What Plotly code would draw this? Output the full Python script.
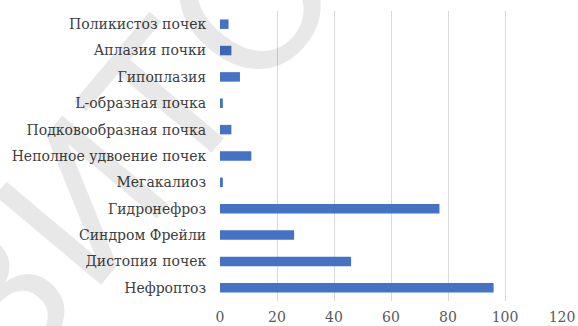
import plotly.graph_objects as go

categories = [
    "Поликистоз почек",
    "Аплазия почки",
    "Гипоплазия",
    "L-образная почка",
    "Подковообразная почка",
    "Неполное удвоение почек",
    "Мегакалиоз",
    "Гидронефроз",
    "Синдром Фрейли",
    "Дистопия почек",
    "Нефроптоз",
]
values = [3, 4, 7, 1, 4, 11, 1, 77, 26, 46, 96]
x_ticks = [0, 20, 40, 60, 80, 100, 120]

W, H = 578, 326
ML, MR, MT, MB = 220, 16, 11, 25

fig = go.Figure(go.Bar(
    x=values, y=categories, orientation="h",
    marker=dict(color="#4472C4", line=dict(width=0)),
))

FONT = "DejaVu Serif"
fig.update_layout(
    width=W, height=H,
    margin=dict(l=ML, r=MR, t=MT, b=MB, autoexpand=False),
    paper_bgcolor="white", plot_bgcolor="white",
    bargap=0.64,
    showlegend=False,
    font=dict(family=FONT, size=14, color="#404040"),
)
fig.update_xaxes(
    range=[0, 120], tickvals=x_ticks, showgrid=True, gridcolor="#d9d9d9",
    gridwidth=1, zeroline=False, showline=False, automargin=False,
    ticks="outside", ticklen=3, tickcolor="rgba(0,0,0,0)",
    tickfont=dict(family=FONT, size=14, color="#595959"),
)
fig.update_yaxes(
    autorange="reversed", showgrid=False, zeroline=False, showline=False,
    automargin=False,
    ticks="outside", ticklen=10, tickcolor="rgba(0,0,0,0)",
    tickfont=dict(family=FONT, size=14, color="#404040"),
)

# watermark
fig.add_annotation(
    text="РЕПОЗИТОРИЙ", xref="paper", yref="paper",
    x=(88 - ML) / (W - ML - MR), y=1 - (196 - MT) / (H - MT - MB),
    xanchor="center", yanchor="middle",
    showarrow=False, textangle=-50,
    font=dict(family="DejaVu Sans", size=190, color="rgba(0,0,0,0.09)"),
)

fig.write_html("out.html")
